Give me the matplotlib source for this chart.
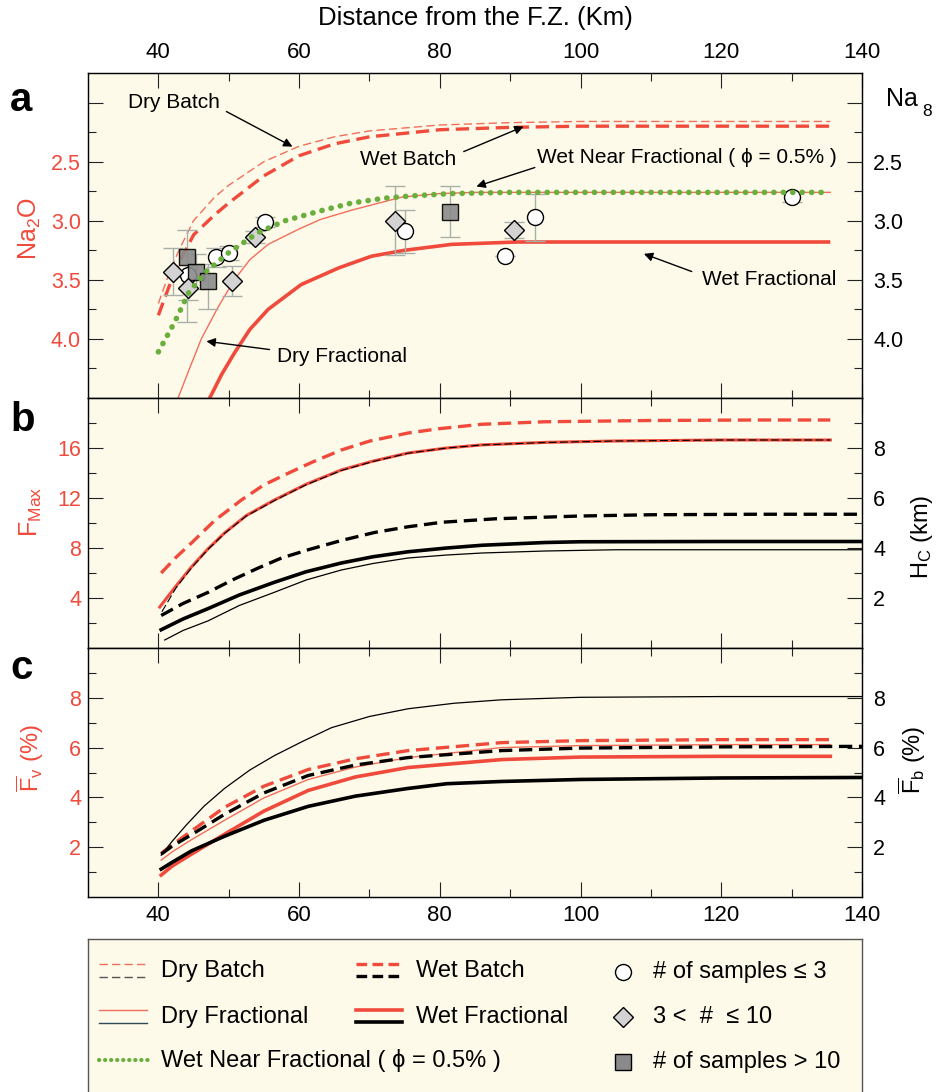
import numpy as np
import matplotlib
matplotlib.use('Agg')
import matplotlib.pyplot as plt
from matplotlib.ticker import FixedLocator, FixedFormatter
from matplotlib.lines import Line2D

plt.rcParams['font.family'] = ['Liberation Sans', 'DejaVu Sans']
plt.rcParams['mathtext.fontset'] = 'custom'
plt.rcParams['mathtext.rm'] = 'Liberation Sans'
plt.rcParams['mathtext.it'] = 'Liberation Sans:italic'
plt.rcParams['mathtext.bf'] = 'Liberation Sans:bold'

RED = '#F04A3C'
RED_THIN = '#F36E5C'
GREEN = '#6AAF3D'
BG = '#FDFAE9'
BAR = '#A8B0AA'
DARK = '#222222'

# ---------------- Panel a : Na2O (Na8) ----------------
x_dry_batch_a = [40, 41.5, 43, 45, 48, 50, 55, 60, 65, 70, 80, 90, 100, 110, 120, 135.5]
na_dry_batch = [3.70, 3.45, 3.24, 3.00, 2.80, 2.70, 2.50, 2.37, 2.29, 2.24, 2.19, 2.17, 2.16, 2.16, 2.16, 2.16]
x_wet_batch_a = [40, 41.5, 43, 45, 48, 50, 55, 60, 65, 70, 80, 90, 100, 110, 120, 135.5]
na_wet_batch = [3.80, 3.56, 3.35, 3.12, 2.95, 2.85, 2.62, 2.45, 2.35, 2.29, 2.23, 2.21, 2.20, 2.20, 2.20, 2.20]
x_wnf_a = [40, 42.3, 44.3, 46.6, 50, 54.2, 58, 62.8, 67.5, 72, 76, 81.7, 90, 100, 120, 135.5]
na_wnf = [4.11, 3.86, 3.61, 3.44, 3.27, 3.10, 3.00, 2.92, 2.85, 2.81, 2.79, 2.77, 2.76, 2.76, 2.76, 2.76]
x_dry_frac_a = [42, 42.8, 44.5, 46.1, 48.5, 50.8, 53, 55.6, 60, 63, 67.5, 74.6, 80, 85, 100, 135.5]
na_dry_frac = [4.63, 4.50, 4.24, 4.00, 3.73, 3.50, 3.33, 3.20, 3.07, 2.99, 2.91, 2.80, 2.77, 2.76, 2.76, 2.76]
x_wet_frac_a = [46.5, 47.3, 49, 50.8, 53, 55.6, 60.3, 65.6, 70.3, 75, 81.7, 91, 100, 135.5]
na_wet_frac = [4.60, 4.50, 4.30, 4.12, 3.92, 3.75, 3.54, 3.40, 3.30, 3.25, 3.20, 3.18, 3.18, 3.18]

# samples
circ_x = [44.2, 48.2, 50.1, 55.1, 75.0, 89.2, 93.5, 130.0]
circ_y = [3.46, 3.31, 3.27, 3.01, 3.09, 3.30, 2.97, 2.80]
circ_err = [0.00, 0.08, 0.06, 0.04, 0.18, 0.00, 0.20, 0.04]
diam_x = [42.1, 44.2, 50.5, 53.7, 73.6, 90.6]
diam_y = [3.43, 3.57, 3.51, 3.14, 3.00, 3.08]
diam_err = [0.20, 0.10, 0.13, 0.05, 0.29, 0.07]
sq_x = [44.0, 45.3, 47.1, 81.4]
sq_y = [3.31, 3.43, 3.51, 2.93]
sq_err_lo = [0.23, 0.15, 0.14, 0.22]
sq_err_hi = [0.55, 0.15, 0.24, 0.21]

# ---------------- Panel b : F_Max (left) and H_c (right) ----------------
x_fmax_solid = [40.2, 42.5, 44.7, 47, 49.4, 52.5, 56.5, 61, 66, 70.5, 75.5, 81, 86, 95, 105, 120, 135.5]
fmax_solid = [3.28, 4.95, 6.48, 7.90, 9.20, 10.60, 11.84, 13.10, 14.24, 14.95, 15.60, 16.00, 16.25, 16.45, 16.56, 16.64, 16.64]
x_fmax_dash = [40.4, 42.5, 44.7, 48, 51.8, 55, 58.9, 62, 66, 70, 75.5, 80, 86, 95, 110, 125, 135.5]
fmax_dash = [6.0, 7.25, 8.40, 10.20, 11.84, 13.05, 14.10, 14.90, 15.84, 16.55, 17.20, 17.55, 17.90, 18.10, 18.20, 18.24, 18.24]
x_hc_dry_batch = [40.5, 42.5, 44.7, 47, 49.4, 52.5, 56.5, 61, 66, 70.5, 75.5, 81, 86, 95, 105, 120, 135.5]
hc_dry_batch = [1.45, 2.40, 3.20, 3.93, 4.58, 5.28, 5.90, 6.53, 7.10, 7.46, 7.79, 8.00, 8.12, 8.22, 8.28, 8.32, 8.32]
x_hc_wet_batch = [40.4, 43.5, 47.1, 50.5, 54.2, 57.5, 61.3, 66, 70.7, 75.5, 80.3, 88, 100, 110, 125, 140]
hc_wet_batch = [1.30, 1.78, 2.23, 2.72, 3.20, 3.60, 3.93, 4.30, 4.62, 4.85, 5.03, 5.17, 5.28, 5.33, 5.35, 5.35]
x_hc_wet_frac = [40.4, 43.5, 47.1, 51.5, 56.5, 61, 66, 70.5, 75.5, 81, 86, 95, 100, 120, 140]
hc_wet_frac = [0.73, 1.16, 1.58, 2.12, 2.63, 3.05, 3.40, 3.65, 3.85, 4.00, 4.11, 4.22, 4.25, 4.26, 4.26]
x_hc_dry_frac = [40.9, 43.5, 47.1, 51.5, 56.5, 61, 66, 70.5, 75.5, 81, 86, 95, 105, 120, 140]
hc_dry_frac = [0.32, 0.70, 1.09, 1.70, 2.23, 2.72, 3.12, 3.38, 3.60, 3.72, 3.80, 3.88, 3.93, 3.93, 3.93]

# ---------------- Panel c : mean F_v (left) and F_b (right) ----------------
x_fb_dry = [40.4, 42, 44, 46.5, 49.4, 53, 56.5, 60.5, 64.6, 70, 75.5, 82, 88.8, 100, 120, 140]
fb_dry = [1.68, 2.25, 2.90, 3.65, 4.36, 5.10, 5.68, 6.25, 6.80, 7.25, 7.56, 7.78, 7.92, 8.02, 8.05, 8.05]
x_fv_wet_batch = [40.4, 42, 44.7, 49.4, 55, 61.3, 68, 75.5, 88.8, 100, 120, 135.5]
fv_wet_batch = [1.75, 2.10, 2.65, 3.60, 4.45, 5.12, 5.55, 5.88, 6.20, 6.28, 6.32, 6.32]
x_fb_wet_batch = [40.4, 42, 44.7, 49.4, 55, 61.3, 68, 75.5, 88.8, 100, 120, 140]
fb_wet_batch = [1.72, 2.05, 2.50, 3.32, 4.18, 4.88, 5.30, 5.60, 5.88, 5.98, 6.03, 6.05]
x_fv_dry = [40.4, 42, 44.7, 49.4, 55, 61.3, 68, 75.5, 88.8, 100, 120, 135.5]
fv_dry = [1.48, 1.82, 2.30, 3.08, 3.98, 4.72, 5.22, 5.60, 6.00, 6.08, 6.12, 6.12]
x_fv_wet_frac = [40.4, 42, 44.7, 49.4, 55, 61.3, 68, 75.5, 88.8, 100, 120, 135.5]
fv_wet_frac = [0.88, 1.25, 1.72, 2.52, 3.45, 4.28, 4.82, 5.20, 5.52, 5.62, 5.65, 5.65]
x_fb_wet_frac = [40.4, 42, 44.7, 49.4, 55, 61.3, 68, 75.5, 81, 88.8, 100, 120, 140]
fb_wet_frac = [1.12, 1.40, 1.85, 2.44, 3.08, 3.64, 4.05, 4.36, 4.55, 4.64, 4.72, 4.78, 4.80]

x_major = [40, 60, 80, 100, 120, 140]
x_minor = [50, 70, 90, 110, 130]

W, H = 944, 1092
fig = plt.figure(figsize=(W / 100, H / 100), dpi=100)
fig.patch.set_facecolor('white')

def fx(px):
    return px / W

def fy(py):
    return 1 - py / H

L = fx(88)
AW = (862 - 88) / W

ax_a = fig.add_axes([L, fy(398), AW, (398 - 73) / H])
ax_b = fig.add_axes([L, fy(648), AW, (648 - 398) / H])
ax_c = fig.add_axes([L, fy(897), AW, (897 - 648) / H])

TICKFS = 15.5

def style_axes(ax, color_left):
    ax.set_facecolor(BG)
    ax.set_xlim(30, 140)
    ax.xaxis.set_major_locator(FixedLocator(x_major))
    ax.xaxis.set_minor_locator(FixedLocator(x_minor))
    ax.tick_params(axis='x', which='both', direction='in', top=True, bottom=True,
                   labeltop=False, labelbottom=False, color=DARK, width=0.8)
    ax.tick_params(axis='x', which='major', length=11)
    ax.tick_params(axis='x', which='minor', length=5.5)
    ax.tick_params(axis='y', which='both', direction='in', left=True, right=False,
                   labelcolor=color_left, labelsize=TICKFS, pad=5, color=DARK, width=0.8)
    ax.tick_params(axis='y', which='major', length=11)
    ax.tick_params(axis='y', which='minor', length=5.5)
    for s in ax.spines.values():
        s.set_color(DARK)
        s.set_linewidth(1.0)

def style_twin(tw):
    tw.tick_params(axis='y', which='both', direction='in', right=True, left=False,
                   labelsize=TICKFS, pad=8, color=DARK, width=0.8, labelcolor='black')
    tw.tick_params(axis='y', which='major', length=11)
    tw.tick_params(axis='y', which='minor', length=5.5)

for ax in (ax_a, ax_b, ax_c):
    style_axes(ax, RED)

ax_a.tick_params(axis='x', which='major', labeltop=True, labelsize=TICKFS + 0.5, pad=7)
ax_c.tick_params(axis='x', which='major', labelbottom=True, labelsize=TICKFS + 0.5, pad=6)

# ---- panel a
ax_a.set_ylim(4.5, 1.75)
ya_major = [2.0, 2.5, 3.0, 3.5, 4.0]
ya_labels = ['', '2.5', '3.0', '3.5', '4.0']
ya_minor = [2.25, 2.75, 3.25, 3.75, 4.25]
ax_a.yaxis.set_major_locator(FixedLocator(ya_major))
ax_a.yaxis.set_major_formatter(FixedFormatter(ya_labels))
ax_a.yaxis.set_minor_locator(FixedLocator(ya_minor))
ta = ax_a.twinx()
ta.set_ylim(4.5, 1.75)
ta.yaxis.set_major_locator(FixedLocator(ya_major))
ta.yaxis.set_major_formatter(FixedFormatter(ya_labels))
ta.yaxis.set_minor_locator(FixedLocator(ya_minor))
style_twin(ta)

ax_a.plot(x_dry_frac_a, na_dry_frac, color=RED_THIN, lw=1.0, zorder=2)
ax_a.plot(x_wet_frac_a, na_wet_frac, color=RED, lw=2.6, zorder=2, solid_capstyle='butt')
ax_a.plot(x_dry_batch_a, na_dry_batch, color=RED_THIN, lw=1.0, ls=(0, (6, 3)), zorder=2)
ax_a.plot(x_wet_batch_a, na_wet_batch, color=RED, lw=2.4, ls=(0, (4, 2)), zorder=2)
ax_a.plot(x_wnf_a, na_wnf, color=GREEN, lw=4.0, ls=(0, (0.05, 1.65)), dash_capstyle='round', zorder=8)

ek = dict(fmt='none', ecolor=BAR, elinewidth=1.0, capsize=7, capthick=1.0, zorder=4)
ax_a.errorbar(circ_x, circ_y, yerr=circ_err, **ek)
ax_a.errorbar(diam_x, diam_y, yerr=diam_err, **ek)
ax_a.errorbar(sq_x, sq_y, yerr=[sq_err_lo, sq_err_hi], **ek)
ax_a.plot(circ_x, circ_y, 'o', ms=11.5, mfc='white', mec='black', mew=1.0, ls='none', zorder=5)
ax_a.plot(sq_x, sq_y, 's', ms=11, mfc='#8A8A8A', mec='black', mew=1.0, alpha=0.9, ls='none', zorder=6)
ax_a.plot(diam_x, diam_y, 'D', ms=10, mfc='#D3D3D3', mec='black', mew=1.0, ls='none', zorder=7)

ANN = 15
arr = dict(arrowstyle='-|>', color='black', lw=1.0, mutation_scale=13, shrinkA=0, shrinkB=0)
ax_a.text(35.7, 2.0, 'Dry Batch', fontsize=ANN, va='center', ha='left', zorder=9)
ax_a.annotate('', xy=(59.06, 2.373), xytext=(49.67, 2.076), arrowprops=arr)
ax_a.text(68.6, 2.483, 'Wet Batch', fontsize=ANN, va='center', ha='left', zorder=9)
ax_a.annotate('', xy=(91.9, 2.203), xytext=(83.4, 2.415), arrowprops=arr)
ax_a.text(93.8, 2.466, 'Wet Near Fractional ( ϕ = 0.5% )', fontsize=ANN, va='center', ha='left', zorder=9)
ax_a.annotate('', xy=(85.2, 2.71), xytext=(93.5, 2.55), arrowprops=arr)
ax_a.text(117.2, 3.50, 'Wet Fractional', fontsize=ANN, va='center', ha='left', zorder=9)
ax_a.annotate('', xy=(109.0, 3.28), xytext=(115.8, 3.43), arrowprops=arr)
ax_a.text(56.8, 4.15, 'Dry Fractional', fontsize=ANN, va='center', ha='left', zorder=9)
ax_a.annotate('', xy=(46.83, 4.02), xytext=(55.8, 4.09), arrowprops=arr)

# ---- panel b
ax_b.set_ylim(0, 20)
ax_b.yaxis.set_major_locator(FixedLocator([4, 8, 12, 16]))
ax_b.yaxis.set_minor_locator(FixedLocator([2, 6, 10, 14, 18]))
tb = ax_b.twinx()
tb.set_ylim(0, 10)
tb.yaxis.set_major_locator(FixedLocator([2, 4, 6, 8]))
tb.yaxis.set_minor_locator(FixedLocator([1, 3, 5, 7, 9]))
style_twin(tb)
ax_b.plot(x_fmax_dash, fmax_dash, color=RED, lw=2.4, ls=(0, (4, 2)))
ax_b.plot(x_fmax_solid, fmax_solid, color=RED, lw=2.2)
tb.plot(x_hc_dry_batch, hc_dry_batch, color='black', lw=0.8, ls=(0, (7, 3)))
tb.plot(x_hc_wet_batch, hc_wet_batch, color='black', lw=2.4, ls=(0, (4, 2)))
tb.plot(x_hc_wet_frac, hc_wet_frac, color='black', lw=2.6)
tb.plot(x_hc_dry_frac, hc_dry_frac, color='black', lw=0.9)

# ---- panel c
ax_c.set_ylim(0, 10)
ax_c.yaxis.set_major_locator(FixedLocator([2, 4, 6, 8]))
ax_c.yaxis.set_minor_locator(FixedLocator([1, 3, 5, 7, 9]))
tc = ax_c.twinx()
tc.set_ylim(0, 10)
tc.yaxis.set_major_locator(FixedLocator([2, 4, 6, 8]))
tc.yaxis.set_minor_locator(FixedLocator([1, 3, 5, 7, 9]))
style_twin(tc)
ax_c.plot(x_fv_wet_batch, fv_wet_batch, color=RED, lw=2.4, ls=(0, (4, 2)))
ax_c.plot(x_fv_dry, fv_dry, color=RED_THIN, lw=1.0)
ax_c.plot(x_fv_wet_frac, fv_wet_frac, color=RED, lw=2.6)
tc.plot(x_fb_dry, fb_dry, color='black', lw=0.9)
tc.plot(x_fb_wet_batch, fb_wet_batch, color='black', lw=2.4, ls=(0, (4, 2)))
tc.plot(x_fb_wet_frac, fb_wet_frac, color='black', lw=2.6)

# ---- texts
fig.text(fx(475), fy(18), 'Distance from the F.Z. (Km)', fontsize=18.5, ha='center', va='center')
for lab, yy in (('a', 100), ('b', 420), ('c', 668)):
    fig.text(fx(10), fy(yy), lab, fontsize=29, fontweight='bold', ha='left', va='center')

LABFS = 18
fig.text(fx(30), fy(229), r'Na$_2$O', color=RED, fontsize=LABFS, rotation=90, ha='center', va='center')
fig.text(fx(31), fy(512), r'F$_{\mathrm{Max}}$', color=RED, fontsize=LABFS, rotation=90, ha='center', va='center')
fig.text(fx(30), fy(758), r'$\overline{\mathrm{F}}_{\mathrm{v}}$ (%)', color=RED, fontsize=17, rotation=90, ha='center', va='center')
fig.text(fx(922), fy(537), r'H$_{\mathrm{C}}$ (km)', color='black', fontsize=17, rotation=90, ha='center', va='center')
fig.text(fx(912), fy(760), r'$\overline{\mathrm{F}}_{\mathrm{b}}$ (%)', color='black', fontsize=17, rotation=90, ha='center', va='center')
fig.text(fx(886), fy(106), 'Na', fontsize=18, ha='left', va='baseline')
fig.text(fx(922), fy(116), '8', fontsize=12.5, ha='left', va='baseline')

# ---- legend box
top_px, bot_px = 939, 1115
lg = fig.add_axes([L, fy(bot_px), AW, (bot_px - top_px) / H])
lg.set_facecolor(BG)
lg.set_xlim(88, 862)
lg.set_ylim(bot_px, top_px)
lg.set_xticks([])
lg.set_yticks([])
for s in lg.spines.values():
    s.set_color('#555555')
    s.set_linewidth(1.0)

LGFS = 17
def seg(x0, x1, y, **kw):
    lg.add_line(Line2D([x0, x1], [y, y], **kw))

seg(99, 147, 964, color=RED_THIN, lw=1.0, ls=(0, (6, 3)))
seg(99, 147, 977, color='#555555', lw=1.0, ls=(0, (6, 3)))
lg.text(161, 971, 'Dry Batch', fontsize=LGFS, va='center', ha='left')
seg(99, 147, 1010, color=RED_THIN, lw=1.0)
seg(99, 147, 1023, color='#2E4A5A', lw=1.0)
lg.text(161, 1017, 'Dry Fractional', fontsize=LGFS, va='center', ha='left')
seg(99, 151, 1060, color=GREEN, lw=3.0, ls=(0, (0.05, 1.4)), dash_capstyle='round')
lg.text(161, 1061, 'Wet Near Fractional ( ϕ = 0.5% )', fontsize=LGFS, va='center', ha='left')
seg(356, 402, 964, color=RED, lw=2.4, ls=(0, (3.2, 1.6)))
seg(356, 402, 976, color='black', lw=2.4, ls=(0, (3.2, 1.6)))
lg.text(416, 971, 'Wet Batch', fontsize=LGFS, va='center', ha='left')
seg(356, 402, 1010, color=RED, lw=2.6)
seg(356, 402, 1022, color='black', lw=2.6)
lg.text(416, 1017, 'Wet Fractional', fontsize=LGFS, va='center', ha='left')
lg.plot([623], [972], 'o', ms=11.5, mfc='white', mec='black', mew=1.0)
lg.text(653, 972, '# of samples ≤ 3', fontsize=LGFS, va='center', ha='left')
lg.plot([623], [1017], 'D', ms=10, mfc='#D3D3D3', mec='black', mew=1.0)
lg.text(653, 1017, '3 <  #  ≤ 10', fontsize=LGFS, va='center', ha='left')
lg.plot([623], [1062], 's', ms=11, mfc='#8A8A8A', mec='black', mew=1.0)
lg.text(653, 1062, '# of samples > 10', fontsize=LGFS, va='center', ha='left')

fig.savefig('out.png', dpi=100, facecolor='white')
